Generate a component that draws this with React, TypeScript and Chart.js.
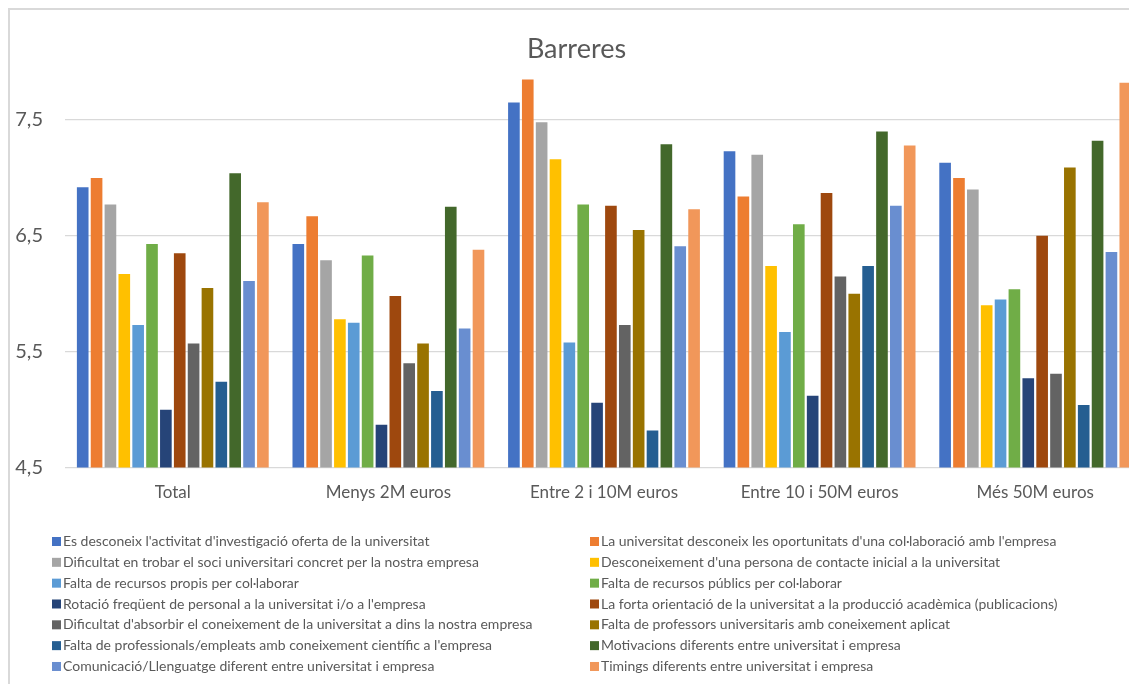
import React, { useEffect, useRef } from "react";
import { Chart, registerables } from "chart.js";

Chart.register(...registerables);

const categories = ["Total", "Menys 2M euros", "Entre 2 i 10M euros", "Entre 10 i 50M euros", "Més 50M euros"];

const seriesNames = [
  "Es desconeix l'activitat d'investigació oferta de la universitat",
  "La universitat desconeix les oportunitats d'una col·laboració amb l'empresa",
  "Dificultat en trobar el soci universitari concret per la nostra empresa",
  "Desconeixement d'una persona de contacte inicial a la universitat",
  "Falta de recursos propis per col·laborar",
  "Falta de recursos públics per col·laborar",
  "Rotació freqüent de personal a la universitat i/o a l'empresa",
  "La forta orientació de la universitat a la producció acadèmica (publicacions)",
  "Dificultat d'absorbir el coneixement de la universitat a dins la nostra empresa",
  "Falta de professors universitaris amb coneixement aplicat",
  "Falta de professionals/empleats amb coneixement científic a l'empresa",
  "Motivacions diferents entre universitat i empresa",
  "Comunicació/Llenguatge diferent entre universitat i empresa",
  "Timings diferents entre universitat i empresa",
];

const seriesColors = [
  "#4472C4", "#ED7D31", "#A5A5A5", "#FFC000", "#5B9BD5", "#70AD47", "#264478",
  "#9E480E", "#636363", "#997300", "#255E91", "#43682B", "#698ED0", "#F1975A",
];

const desconeixActivitat = [6.92, 6.43, 7.65, 7.23, 7.13];
const desconeixOportunitats = [7.0, 6.67, 7.85, 6.84, 7.0];
const dificultatSoci = [6.77, 6.29, 7.48, 7.2, 6.9];
const desconeixContacte = [6.17, 5.78, 7.16, 6.24, 5.9];
const recursosPropis = [5.73, 5.75, 5.58, 5.67, 5.95];
const recursosPublics = [6.43, 6.33, 6.77, 6.6, 6.04];
const rotacioPersonal = [5.0, 4.87, 5.06, 5.12, 5.27];
const orientacioAcademica = [6.35, 5.98, 6.76, 6.87, 6.5];
const dificultatAbsorbir = [5.57, 5.4, 5.73, 6.15, 5.31];
const professorsAplicat = [6.05, 5.57, 6.55, 6.0, 7.09];
const professionalsCientific = [5.24, 5.16, 4.82, 6.24, 5.04];
const motivacionsDiferents = [7.04, 6.75, 7.29, 7.4, 7.32];
const comunicacioDiferent = [6.11, 5.7, 6.41, 6.76, 6.36];
const timingsDiferents = [6.79, 6.38, 6.73, 7.28, 7.82];

const seriesValues = [
  desconeixActivitat, desconeixOportunitats, dificultatSoci, desconeixContacte,
  recursosPropis, recursosPublics, rotacioPersonal, orientacioAcademica,
  dificultatAbsorbir, professorsAplicat, professionalsCientific,
  motivacionsDiferents, comunicacioDiferent, timingsDiferents,
];

const yTicks = [4.5, 5.5, 6.5, 7.5];
const yMin = 4.5;
const yMax = 8.0;

const FONT = "Lato, 'Open Sans', sans-serif";
const TEXT = "#595959";

const twoColLegend = {
  id: "twoColLegend",
  afterDraw(chart: any) {
    const ctx = chart.ctx;
    const ds = chart.data.datasets;
    const colX = [42, 580];
    const top = 531.5;
    const rowH = 20.83;
    const box = 9;
    ctx.save();
    ctx.font = `14px ${FONT}`;
    ctx.textBaseline = "middle";
    ctx.textAlign = "left";
    ds.forEach((d: any, i: number) => {
      const col = i % 2;
      const row = Math.floor(i / 2);
      const x = colX[col];
      const y = top + row * rowH;
      ctx.fillStyle = d.backgroundColor;
      ctx.fillRect(x, y - box / 2, box, box);
      ctx.fillStyle = TEXT;
      ctx.fillText(d.label, x + 11, y);
    });
    ctx.restore();
  },
};

export default function App() {
  const ref = useRef<HTMLCanvasElement>(null);
  useEffect(() => {
    if (!ref.current) return;
    const chart = new Chart(ref.current, {
      type: "bar",
      data: {
        labels: categories,
        datasets: seriesNames.map((name, i) => ({
          label: name,
          data: seriesValues[i],
          backgroundColor: seriesColors[i],
          borderWidth: 0,
          categoryPercentage: 0.9,
          barPercentage: 0.84,
        })),
      },
      options: {
        responsive: false,
        animation: false,
        devicePixelRatio: 1,
        layout: { padding: { left: 0, right: 2, top: 0, bottom: 174 } },
        plugins: {
          legend: { display: false },
          tooltip: { enabled: false },
          title: {
            display: true,
            text: "Barreres",
            color: TEXT,
            font: { family: FONT, size: 27, weight: "normal", lineHeight: 1.0 },
            padding: { top: 26, bottom: -1 },
          },
        },
        scales: {
          x: {
            grid: { display: false },
            border: { display: false },
            ticks: {
              color: TEXT,
              font: { family: FONT, size: 17 },
              padding: 7,
              maxRotation: 0,
            },
          },
          y: {
            min: yMin,
            max: yMax,
            grid: { color: "#d9d9d9", lineWidth: 1.3, drawTicks: false },
            border: { display: false },
            afterBuildTicks: (scale: any) => {
              scale.ticks = yTicks.map((v) => ({ value: v }));
            },
            afterFit: (scale: any) => {
              scale.width = 55;
            },
            ticks: {
              color: TEXT,
              font: { family: FONT, size: 20 },
              padding: 22,
              callback: (v: any) => Number(v).toFixed(1).replace(".", ","),
            },
          },
        },
      },
      plugins: [twoColLegend],
    });
    return () => chart.destroy();
  }, []);

  return (
    <div
      style={{
        width: 1129,
        height: 676,
        overflow: "hidden",
        borderTop: "2px solid #d9d9d9",
        borderLeft: "2px solid #d9d9d9",
        boxSizing: "border-box",
        background: "#fff",
      }}
    >
      <canvas ref={ref} width={1135} height={674} style={{ display: "block" }} />
    </div>
  );
}
